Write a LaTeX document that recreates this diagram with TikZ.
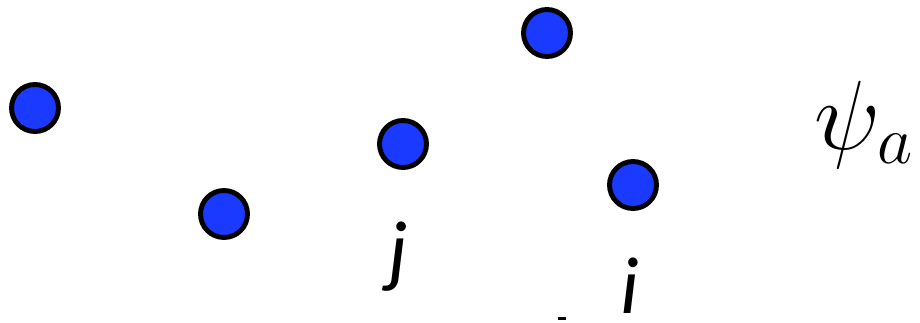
\documentclass[tikz,border=0pt]{standalone}
\usepackage{fontspec}
\newfontfamily\labelfont{Carlito}
\definecolor{dotblue}{RGB}{26,58,255}
\tikzset{
  dot/.style={circle,draw=black,fill=dotblue,line width=2.8pt,minimum size=0.94cm,inner sep=0pt},
  lbl/.style={font=\labelfont\itshape\fontsize{46}{54}\selectfont,inner sep=0pt,anchor=base}
}
\begin{document}
\begin{tikzpicture}[x=0.02cm,y=-0.02cm]
\useasboundingbox (0,0) rectangle (920,322);

% Teilchen
\node[dot] (d1) at (35,108) {};
\node[dot] (d2) at (224,214) {};
\node[dot] (dj) at (403,144) {};
\node[dot] (d3) at (547,33) {};
\node[dot] (di) at (633,185) {};

% Bezeichnungen
\node[lbl] (lj) at (398,277) {j};
\node[lbl] (li) at (630,313) {i};

% abgeschnittener Rest
\fill (558,317) rectangle (566,320);

% Wellenfunktion
\node[inner sep=0pt,anchor=base west,scale=2.25,font=\fontsize{24}{28}\selectfont]
(psi) at (814,149) {$\psi_a$};

\end{tikzpicture}
\end{document}
